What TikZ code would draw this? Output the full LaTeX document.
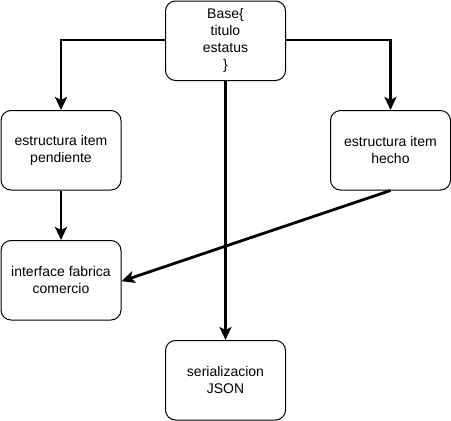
\documentclass[tikz,border=0pt]{standalone}
\usepackage{fontspec}
\setmainfont{Liberation Sans}
\usetikzlibrary{arrows.meta}
\begin{document}
\begin{tikzpicture}[x=1pt,y=-1pt,
  box/.style={draw=black, line width=1pt, rounded corners=10pt, minimum width=120pt, minimum height=79.5pt, align=center, inner sep=0pt, font=\fontsize{14pt}{17pt}\selectfont, anchor=north west},
  conn/.style={draw=black, line width=2.8pt, -{Stealth[length=13pt,width=12pt,inset=3pt]}}]
\useasboundingbox (0,0) rectangle (451,421);
\node[box] (base) at (165,0.5) {Base\{\\titulo\\estatus\\\}};
\node[box] (pend) at (0.5,110) {estructura item\\pendiente};
\node[box] (hecho) at (330,110) {estructura item\\hecho};
\node[box] (iface) at (0.5,240) {interface fabrica\\comercio};
\node[box] (json) at (165,340) {serializacion\\JSON};
\draw[conn] (base.west |- 0,40) -| (pend.north);
\draw[conn] (base.east |- 0,40) -| (hecho.north);
\draw[conn] (pend.south) -- (iface.north);
\draw[conn] (hecho.south) -- ([yshift=-1pt]iface.east);
\draw[conn] (base.south) -- (json.north);
\end{tikzpicture}
\end{document}
